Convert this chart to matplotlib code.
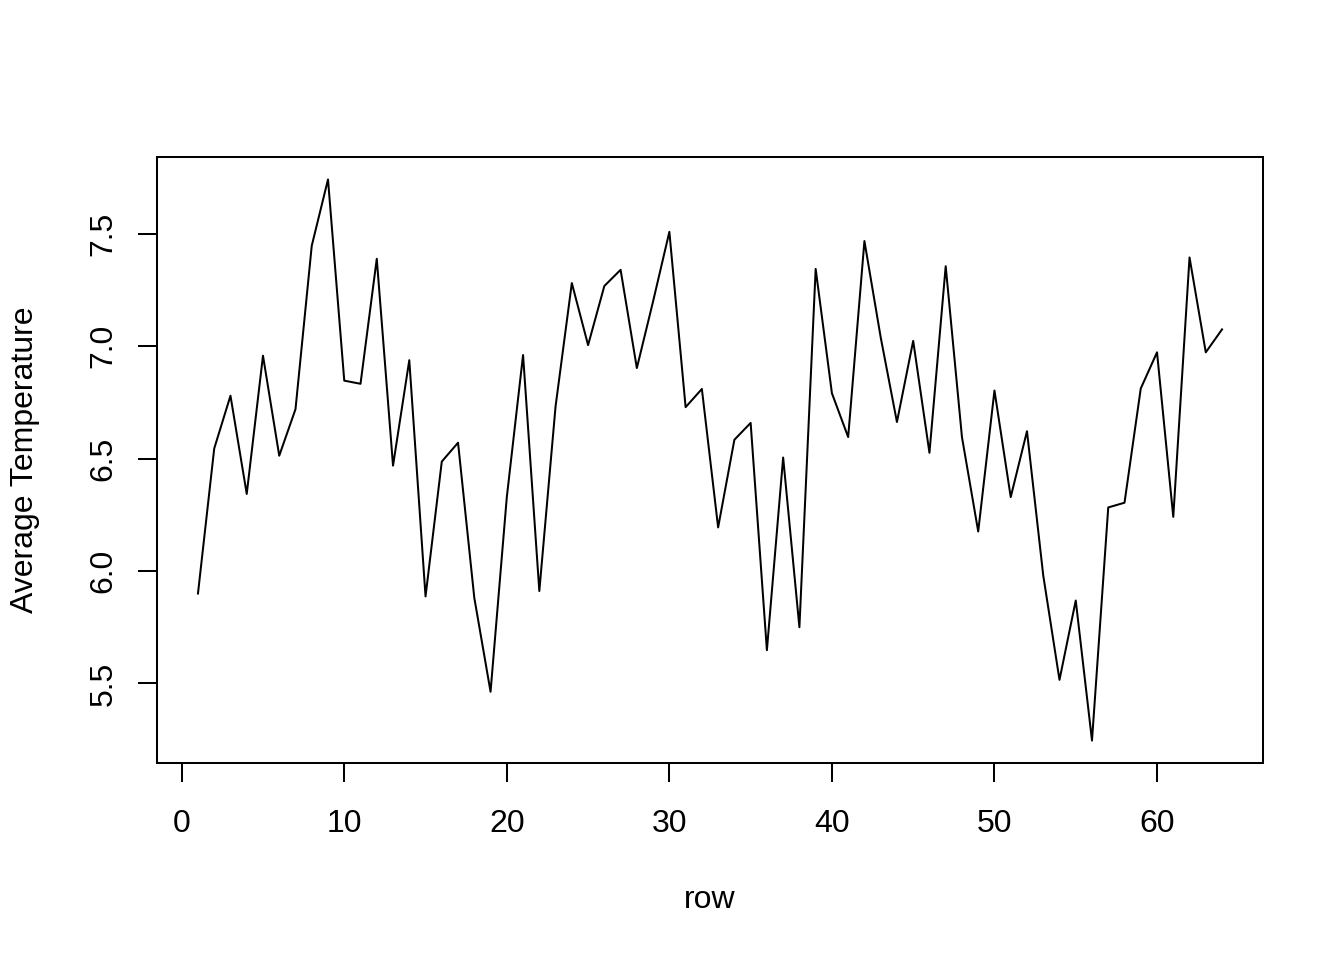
import matplotlib.pyplot as plt
import numpy as np

rows = list(range(1, 65))
avg_temp = [5.90, 6.545, 6.78, 6.343, 6.958, 6.513, 6.72, 7.447, 7.742, 6.847,
            6.833, 7.389, 6.469, 6.938, 5.887, 6.487, 6.571, 5.881, 5.463, 6.329,
            6.961, 5.911, 6.733, 7.281, 7.005, 7.268, 7.34, 6.903, 7.2, 7.509,
            6.729, 6.81, 6.194, 6.584, 6.659, 5.648, 6.505, 5.75, 7.344, 6.791,
            6.596, 7.468, 7.04, 6.663, 7.024, 6.526, 7.356, 6.596, 6.176, 6.803,
            6.329, 6.622, 5.981, 5.516, 5.869, 5.246, 6.283, 6.304, 6.812, 6.973,
            6.241, 7.395, 6.973, 7.075]
x_ticks = [0, 10, 20, 30, 40, 50, 60]
y_ticks = [5.5, 6.0, 6.5, 7.0, 7.5]

plt.rcParams['font.family'] = ['Liberation Sans', 'DejaVu Sans']

fig = plt.figure(figsize=(13.44, 9.6), dpi=100)
ax = fig.add_axes([157 / 1344, 1 - 763 / 960, 1106 / 1344, 606 / 960])

ax.plot(rows, avg_temp, color='black', linewidth=1.45)

# R style 4% padding of the data range
xr = max(rows) - min(rows)
yr = max(avg_temp) - min(avg_temp)
ax.set_xlim(min(rows) - 0.04 * xr, max(rows) + 0.04 * xr)
ax.set_ylim(min(avg_temp) - 0.04 * yr, max(avg_temp) + 0.04 * yr)

ax.set_xticks(x_ticks)
ax.set_xticklabels([str(t) for t in x_ticks])
ax.set_yticks(y_ticks)
ax.set_yticklabels(["%.1f" % t for t in y_ticks], rotation=90, va='center')

ax.tick_params(axis='both', direction='out', length=13.8, width=1.45,
               labelsize=23, color='black')
ax.tick_params(axis='x', pad=19)
ax.tick_params(axis='y', pad=14)
for s in ax.spines.values():
    s.set_linewidth(1.45)

ax.set_xlabel("row", fontsize=23)
ax.xaxis.set_label_coords(0.5, (763 - 900) / 606)
ax.xaxis.label.set_va('center')
ax.set_ylabel("Average Temperature", fontsize=23)
ax.yaxis.set_label_coords((25 - 157) / 1106, 0.5)
ax.yaxis.label.set_va('center')

fig.savefig("out.png", dpi=100)
